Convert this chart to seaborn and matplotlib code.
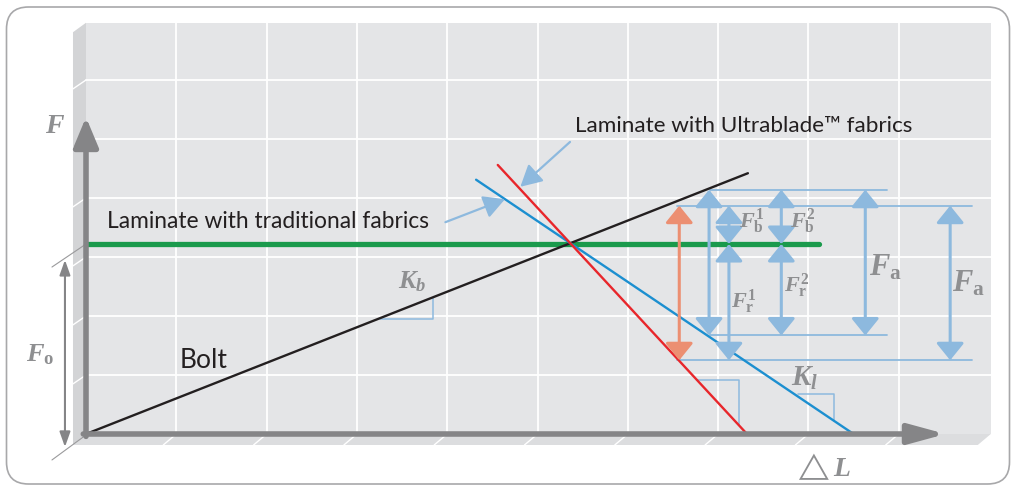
import matplotlib
matplotlib.use("Agg")
import pandas as pd
import matplotlib.pyplot as plt
import seaborn as sns
from matplotlib.patches import Polygon, Rectangle, FancyBboxPatch

# 特性线端点 (ΔL, F)，单位 = 网格格数
bolt_dl = [0.0, 7.33]
bolt_f = [0.0, 4.42]
trad_dl = [4.32, 8.50]
trad_f = [4.31, 0.0]
ultra_dl = [4.56, 7.32]
ultra_f = [4.56, 0.0]
preload_dl = [0.0, 8.12]
preload_f = [3.22, 3.22]

# 工作点水平线
level_f = [4.14, 3.87, 1.67, 1.25]
level_from = [6.91, 6.54, 6.91, 6.54]
level_to = [8.87, 9.81, 8.87, 9.81]

# 力的双向箭头
force_dl = [6.90, 7.12, 7.12, 7.70, 7.70, 8.63, 9.57]
force_lo = [1.67, 3.22, 1.25, 3.22, 1.67, 1.67, 1.25]
force_hi = [4.14, 3.87, 3.22, 4.14, 3.22, 4.14, 3.87]
orange_dl, orange_lo, orange_hi = 6.57, 1.25, 3.87

# 力标签
force_labels = [r"$F_{\mathrm{b}}^{1}$", r"$F_{\mathrm{b}}^{2}$", r"$F_{\mathrm{r}}^{1}$",
                r"$F_{\mathrm{r}}^{2}$", r"$F_{\mathrm{a}}$", r"$F_{\mathrm{a}}$"]
force_label_dl = [7.37, 7.94, 7.28, 7.87, 8.85, 9.77]
force_label_f = [3.61, 3.61, 2.24, 2.51, 2.83, 2.56]
force_label_size = [16, 16, 16, 16, 22, 22]

# 颜色
C_AREA = "#E4E5E7"
C_AXIS = "#858587"
C_LBL = "#8E8F91"
C_LB = "#8DB9DE"
C_TXT = "#231F20"

sns.set_theme(style="white")
plt.rcParams["font.family"] = ["Lato", "DejaVu Sans"]
plt.rcParams["mathtext.fontset"] = "custom"
plt.rcParams["mathtext.it"] = "Liberation Serif:italic:bold"
plt.rcParams["mathtext.rm"] = "Liberation Serif:bold"
plt.rcParams["mathtext.bf"] = "Liberation Serif:bold"

fig = plt.figure(figsize=(10.13, 4.87), dpi=100)

# 外框
bg = fig.add_axes([0, 0, 1, 1])
bg.set_xlim(0, 1013)
bg.set_ylim(487, 0)
bg.axis("off")
bg.add_patch(FancyBboxPatch((6.5, 7), 1003, 477, boxstyle="round,pad=0,rounding_size=22",
                            fc="white", ec="#A8A8AA", lw=1.2))

ax = fig.add_axes([0, 0, 1, 1])
ax.patch.set_alpha(0)

# 网格背景 + 立体边
W, H, dx, dy = 10.02, 6.97, -0.144, -0.186
ax.add_patch(Rectangle((0, 0), W, H, fc=C_AREA, ec="none", zorder=0))
ax.add_patch(Polygon([(dx, H - 0.16), (0, H), (0, 0), (dx, dy)], fc="#D3D4D6", ec="none", zorder=0))
ax.add_patch(Polygon([(0, 0), (W, 0), (W + dx, dy), (dx, dy)], fc="#DCDDDF", ec="none", zorder=0))
for i in range(1, 10):
    ax.plot([i, i], [0, H], color="white", lw=1.3, zorder=0.5)
    ax.plot([i, i + dx], [0, dy], color="white", lw=1.0, zorder=0.5)
for j in range(1, 7):
    ax.plot([0, W], [j, j], color="white", lw=1.3, zorder=0.5)
    ax.plot([0, dx], [j, j - 0.15], color="white", lw=1.0, zorder=0.5)

# F0 标注
ax.plot([-0.377, 0], [2.83, 3.22], color="#9A9A9C", lw=0.8, zorder=1)
ax.plot([-0.377, -0.03], [-0.44, -0.05], color="#9A9A9C", lw=0.8, zorder=1)


def arrow(x0, y0, x1, y1, color, lw, hl, hw, style="-|>", z=3):
    ax.annotate("", xy=(x1, y1), xytext=(x0, y0),
                arrowprops=dict(arrowstyle=f"{style},head_length={hl},head_width={hw}",
                                color=color, lw=lw, shrinkA=0, shrinkB=0, mutation_scale=1),
                zorder=z)


arrow(-0.233, -0.22, -0.233, 2.95, C_AXIS, 1.5, 9, 3.2, style="<|-|>")

# 预紧线与特性线
sns.lineplot(x=preload_dl, y=preload_f, color="#1A9A4C", lw=3.8, ax=ax, zorder=2)
curves = pd.DataFrame({
    "dl": bolt_dl + trad_dl + ultra_dl,
    "f": bolt_f + trad_f + ultra_f,
    "curve": ["Bolt"] * 2 + ["Traditional"] * 2 + ["Ultrablade"] * 2,
})
sns.lineplot(data=curves, x="dl", y="f", hue="curve", estimator=None, sort=False,
             palette={"Bolt": "#231F20", "Traditional": "#1C8FD0", "Ultrablade": "#E8262B"},
             lw=1.7, legend=False, ax=ax, zorder=2.5)

# 坐标轴箭头
arrow(0, -0.04, 0, 5.37, C_AXIS, 4, 18, 7.5, z=4)
arrow(-0.03, 0, 9.52, 0, C_AXIS, 4, 22, 6, z=4)

# 刚度三角
ax.plot([3.26, 3.84, 3.84], [1.95, 1.95, 2.30], color=C_LB, lw=1.1, zorder=2)
ax.plot([6.77, 7.23, 7.23], [0.915, 0.915, 0.15], color=C_LB, lw=1.1, zorder=2)
ax.plot([7.88, 8.28, 8.28], [0.68, 0.68, 0.227], color=C_LB, lw=1.1, zorder=2)

# 水平工作线
for f, a, b in zip(level_f, level_from, level_to):
    ax.plot([a, b], [f, f], color=C_LB, lw=1.3, zorder=2)

# 力箭头
for x, lo, hi in zip(force_dl, force_lo, force_hi):
    arrow(x, lo, x, hi, C_LB, 2.2, 10.5, 8.5, style="<|-|>", z=3)
arrow(orange_dl, orange_lo, orange_dl, orange_hi, "#EC8F72", 2.2, 10.5, 8.5, style="<|-|>", z=3)

for s, x, y, fs in zip(force_labels, force_label_dl, force_label_f, force_label_size):
    ax.text(x, y, s, color=C_LBL, fontsize=fs, ha="center", va="center", zorder=5)

ax.text(3.61, 2.58, r"$K_b$", color=C_LBL, fontsize=19, ha="center", va="center")
ax.text(7.96, 0.95, r"$K_l$", color=C_LBL, fontsize=21, ha="center", va="center")
ax.text(-0.34, 5.24, r"$F$", color=C_LBL, fontsize=20, ha="center", va="center")
ax.text(-0.51, 1.34, r"$F_{\mathrm{o}}$", color=C_LBL, fontsize=19, ha="center", va="center")
ax.text(8.15, -0.56, r"$\triangle L$", color=C_LBL, fontsize=20, ha="center", va="center")

# 文字与指引箭头
ax.text(1.30, 1.25, "Bolt", color=C_TXT, fontsize=19, ha="center", va="center")
ax.text(0.233, 3.61, "Laminate with traditional fabrics", color=C_TXT, fontsize=16.4,
        ha="left", va="center")
ax.text(5.415, 5.22, "Laminate with Ultrablade\u2122 fabrics", color=C_TXT, fontsize=16.2,
        ha="left", va="center")
arrow(3.98, 3.59, 4.64, 3.98, C_LB, 1.6, 13, 7, z=3)
arrow(5.36, 4.95, 4.81, 4.19, C_LB, 1.6, 13, 7, z=3)

ax.set_xlim(-86 / 90.3, (1013 - 86) / 90.3)
ax.set_ylim(-(487 - 434) / 59, 434 / 59)
ax.axis("off")

fig.savefig("out.png", dpi=100)
